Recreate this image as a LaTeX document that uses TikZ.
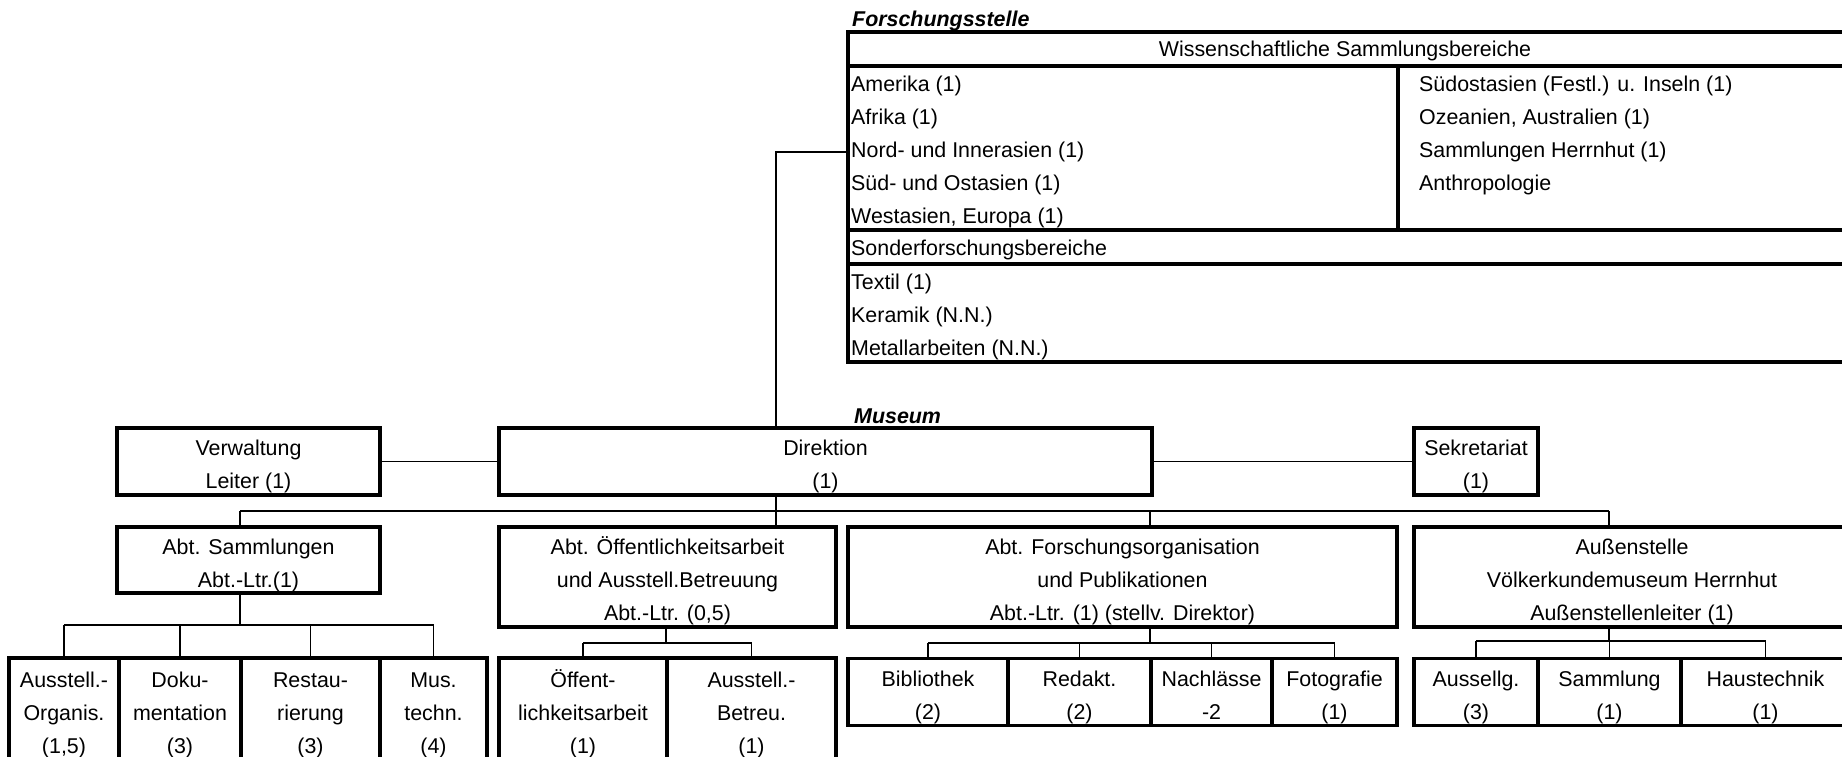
\documentclass[tikz,border=0pt]{standalone}
\usepackage{fontspec}
\setmainfont{Liberation Sans}
\newcommand{\orgstrut}{\rule[-5.8pt]{0pt}{33pt}}
\begin{document}
\begin{tikzpicture}[x=1pt, y=-1pt,
	orgbox/.style 2 args={draw, line width=3.3pt, minimum width=#1*1pt, minimum height=#2*1pt, inner sep=0pt, align=center, font=\fontsize{21.4pt}{33pt}\selectfont},
	orglink/.style={line width=1.8pt},
	tabline/.style={line width=3.3pt},
	tabtext/.style={inner sep=3pt, text height=16pt, text depth=5pt, font=\fontsize{21.4pt}{33pt}\selectfont},
	headtext/.style={anchor=west, inner sep=4pt, font=\fontsize{21.4pt}{33pt}\selectfont\bfseries\itshape}]

\clip (0, 0) rectangle (1842, 757);

\node[headtext] (fst) at (848, 21) {Forschungsstelle};
\draw[tabline] (848, 32) rectangle (1850, 362);
\draw[tabline] (848, 66) -- (1850, 66) (848, 230) -- (1850, 230) (848, 264) -- (1850, 264) (1398, 66) -- (1398, 230);
\node[tabtext] (wsb) at (1345, 51) {Wissenschaftliche Sammlungsbereiche};
\foreach \y/\text [count=\i] in {
	86/Amerika (1),
	119/Afrika (1),
	152/Nord- und Innerasien (1),
	185/Süd- und Ostasien (1),
	218/{Westasien, Europa (1)}}
\node[tabtext, anchor=west] (links\i) at (848, \y) {\text};
\foreach \y/\text [count=\i] in {
	86/Südostasien (Festl.) u. Inseln (1),
	119/{Ozeanien, Australien (1)},
	152/Sammlungen Herrnhut (1),
	185/Anthropologie}
\node[tabtext, anchor=west] (rechts\i) at (1416, \y) {\text};
\node[tabtext, anchor=west] (sfb) at (848, 250) {Sonderforschungsbereiche};
\foreach \y/\text [count=\i] in {
	284/Textil (1),
	317/Keramik (N.N.),
	350/Metallarbeiten (N.N.)}
\node[tabtext, anchor=west] (sfb\i) at (848, \y) {\text};

\node[headtext] (mus) at (850, 416) {Museum};
\node[orgbox={263}{67}] (verw) at (248.5, 461.5) {\orgstrut Verwaltung\\Leiter (1)\orgstrut};
\node[orgbox={653}{67}] (dir) at (825.5, 461.5) {\orgstrut Direktion\\(1)\orgstrut};
\node[orgbox={124}{67}] (sek) at (1476, 461.5) {\orgstrut Sekretariat\\(1)\orgstrut};

\node[orgbox={263}{66}] (sam) at (248.5, 560) {\orgstrut Abt. Sammlungen\\Abt.-Ltr.(1)\orgstrut};
\node[orgbox={337}{100}] (oeff) at (667.5, 577) {\orgstrut Abt. Öffentlichkeitsarbeit\\und Ausstell.Betreuung\\Abt.-Ltr. (0,5)\orgstrut};
\node[orgbox={549}{100}] (fpub) at (1122.5, 577) {\orgstrut Abt. Forschungsorganisation\\und Publikationen\\Abt.-Ltr. (1) (stellv. Direktor)\orgstrut};
\node[orgbox={436}{100}] (aussen) at (1632, 577) {\orgstrut Außenstelle\\Völkerkundemuseum Herrnhut\\Außenstellenleiter (1)\orgstrut};

\foreach \n/\x/\w/\text in {
	ao/64/110/{Ausstell.-\\Organis.\\(1,5)},
	doku/180/122/{Doku-\\mentation\\(3)},
	rest/310.5/139/{Restau-\\rierung\\(3)},
	mus/433.5/107/{Mus.\\techn.\\(4)},
	oef/583/168/{Öffent-\\lichkeitsarbeit\\(1)},
	ausb/751.5/169/{Ausstell.-\\Betreu.\\(1)}}
\node[orgbox={\w}{104}] (\n) at (\x, 710) {\orgstrut\text\orgstrut};
\foreach \n/\x/\w/\text in {
	bib/928/160/{Bibliothek\\(2)},
	red/1079.5/143/{Redakt.\\(2)},
	nach/1211.5/121/{Nachlässe\\-2},
	foto/1334.5/125/{Fotografie\\(1)},
	ausg/1476/124/{Aussellg.\\(3)},
	samm/1609.5/143/{Sammlung\\(1)},
	haus/1765.5/169/{Haustechnik\\(1)}}
\node[orgbox={\w}{67}] (\n) at (\x, 692) {\orgstrut\text\orgstrut};

\coordinate (b0) at (776, 511);
\coordinate (b1) at (240, 625);
\coordinate (b2) at (666, 643);
\coordinate (b3) at (1150, 643);
\coordinate (b4) at (1609, 641);

\draw[orglink] (dir.north -| b0) |- (links3.west);
\draw[orglink] (verw) -- (dir);
\draw[orglink] (dir) -- (sek);
\draw[orglink] (dir.south -| b0) -- (oeff.north -| b0);
\draw[orglink] (b1 |- b0) -- (b4 |- b0);
\draw[orglink] (b1 |- b0) -- (b1 |- sam.north);
\draw[orglink] (b3 |- b0) -- (b3 |- fpub.north);
\draw[orglink] (b4 |- b0) -- (b4 |- aussen.north);

\draw[orglink] (sam.south -| b1) -- (b1);
\draw[orglink] (b1 -| ao.north) -- (b1 -| mus.north);
\foreach \n in {ao, doku, rest, mus}
\draw[orglink] (b1 -| \n.north) -- (\n.north);

\draw[orglink] (oeff.south -| b2) -- (b2);
\draw[orglink] (b2 -| oef.north) -- (b2 -| ausb.north);
\foreach \n in {oef, ausb}
\draw[orglink] (b2 -| \n.north) -- (\n.north);

\draw[orglink] (fpub.south -| b3) -- (b3);
\draw[orglink] (b3 -| bib.north) -- (b3 -| foto.north);
\foreach \n in {bib, red, nach, foto}
\draw[orglink] (b3 -| \n.north) -- (\n.north);

\draw[orglink] (aussen.south -| b4) -- (b4);
\draw[orglink] (b4 -| ausg.north) -- (b4 -| haus.north);
\foreach \n in {ausg, samm, haus}
\draw[orglink] (b4 -| \n.north) -- (\n.north);

\end{tikzpicture}
\end{document}
